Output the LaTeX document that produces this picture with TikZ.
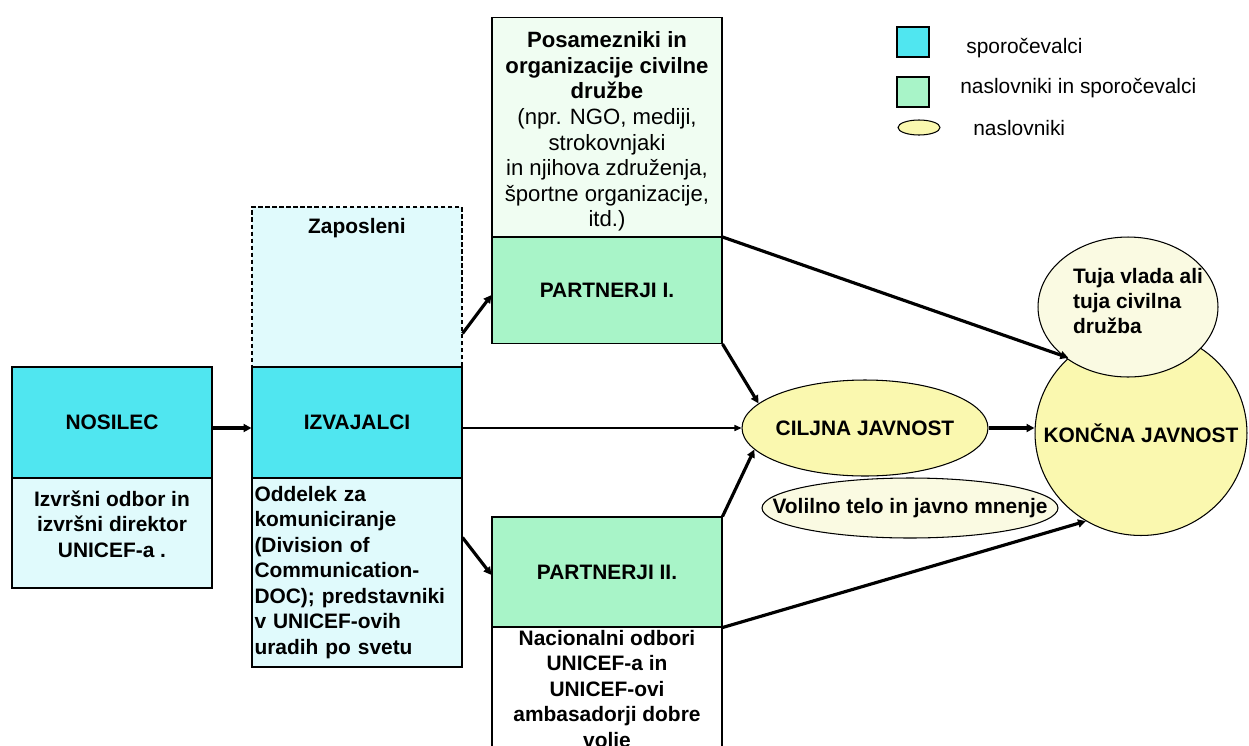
\documentclass[tikz,border=0pt]{standalone}
\usepackage{fontspec}
\setmainfont{Liberation Sans}
\usetikzlibrary{shapes.geometric,arrows.meta,calc}

\definecolor{tuerkis}{RGB}{80,230,240}
\definecolor{hellblau}{RGB}{224,250,252}
\definecolor{gruen}{RGB}{168,244,200}
\definecolor{hellgruen}{RGB}{240,253,242}
\definecolor{gelb}{RGB}{250,248,175}
\definecolor{hellgelb}{RGB}{250,250,226}

\begin{document}
\begin{tikzpicture}[x=0.02cm,y=-0.02cm,
	kasten/.style={draw,line width=0.6pt,inner sep=0pt},
	oval/.style={ellipse,draw,line width=0.6pt,inner sep=0pt},
	schrift/.style={font=\fontsize{11.9}{14.5}\selectfont\bfseries,align=center,inner sep=0pt},
	normal/.style={font=\fontsize{11.9}{14.5}\selectfont,inner sep=0pt},
	pfeil/.style={line width=1.8pt,-{Triangle[length=4.5pt,width=4.5pt]}},
	duenn/.style={line width=0.6pt,-{Triangle[length=4pt,width=3.5pt]}}]

	\useasboundingbox (0,0) rectangle (1249,745);

	% Legende
	\node (leg1) at (913,42) [kasten,fill=tuerkis,minimum width=0.64cm,minimum height=0.6cm] {};
	\node (leg1txt) at (966,48) [normal,anchor=west] {sporočevalci};
	\node (leg2) at (913,92) [kasten,fill=gruen,minimum width=0.64cm,minimum height=0.6cm] {};
	\node (leg2txt) at (960,88) [normal,anchor=west] {naslovniki in sporočevalci};
	\node (leg3) at (919,127.5) [oval,fill=gelb,minimum width=0.84cm,minimum height=0.3cm] {};
	\node (leg3txt) at (973,128) [normal,anchor=west] {naslovniki};

	% Nosilec
	\node (nosilec) at (112,422.5) [kasten,fill=tuerkis,minimum width=4cm,minimum height=2.22cm,schrift] {NOSILEC};
	\node (nosilecopis) at (112,533) [kasten,fill=hellblau,minimum width=4cm,minimum height=2.2cm] {};
	\node (nosilectxt) at (112,524) [schrift] {Izvršni odbor in\\izvršni direktor\\UNICEF-a .};

	% Izvajalci
	\node (zaposleni) at (357,287) [kasten,dash pattern=on 2.5pt off 1.5pt,fill=hellblau,minimum width=4.2cm,minimum height=3.2cm] {};
	\node (zaposlenitxt) at (357,228) [schrift] {Zaposleni};
	\node (izvajalci) at (357,422.5) [kasten,fill=tuerkis,minimum width=4.2cm,minimum height=2.22cm,schrift] {IZVAJALCI};
	\node (izvopis) at (357,572.5) [kasten,fill=hellblau,minimum width=4.2cm,minimum height=3.78cm,schrift,align=left,text width=4.1cm,inner xsep=0.05cm] {Oddelek za\\komuniciranje\\(Division of\\Communication-\\DOC); predstavniki\\v UNICEF-ovih\\uradih po svetu};

	% Partnerji I
	\node (posam) at (607,127) [kasten,fill=hellgruen,minimum width=4.6cm,minimum height=4.4cm] {};
	\node (posamtxt) at (607,31) [anchor=north,align=center,inner sep=0pt,font={\fontsize{12.6}{14.6}\selectfont}] {\textbf{Posamezniki in}\\\textbf{organizacije civilne}\\\textbf{družbe}\\(npr. NGO, mediji,\\strokovnjaki\\in njihova združenja,\\športne organizacije,\\itd.)};
	\node (partnerji1) at (607,290.5) [kasten,fill=gruen,minimum width=4.6cm,minimum height=2.12cm,schrift] {PARTNERJI I.};

	% Partnerji II
	\node (partnerji2) at (607,572) [kasten,fill=gruen,minimum width=4.6cm,minimum height=2.2cm,schrift] {PARTNERJI II.};
	\node (odbori) at (607,707) [kasten,fill=white,minimum width=4.6cm,minimum height=3.2cm] {};
	\node (odboritxt) at (607,630) [anchor=north,schrift] {Nacionalni odbori\\UNICEF-a in\\UNICEF-ovi\\ambasadorji dobre\\volje};

	% Javnost
	\node (ciljna) at (865,428) [oval,fill=gelb,minimum width=4.92cm,minimum height=1.92cm,schrift] {\makebox[0pt]{CILJNA JAVNOST}};
	\node (volilno) at (910,508) [oval,fill=hellgelb,minimum width=5.92cm,minimum height=1.2cm,schrift] {\makebox[0pt]{Volilno telo in javno mnenje}};
	\node (koncna) at (1141,433) [oval,fill=gelb,minimum width=4.24cm,minimum height=4.1cm,schrift] {\makebox[0pt]{KONČNA JAVNOST}};
	\node (tuja) at (1128,307) [oval,fill=hellgelb,minimum width=3.6cm,minimum height=2.8cm] {};
	\node (tujatxt) at (1138,301) [schrift,align=left] {Tuja vlada ali\\tuja civilna\\družba};

	% Pfeile
	\draw[pfeil] (nosilec.east |- ciljna.west) -- (izvajalci.west |- ciljna.west);
	\draw[duenn] (izvajalci.east |- ciljna.west) -- (ciljna.west);
	\draw[pfeil] ($(zaposleni.south east)+(0,-34)$) -- ($(partnerji1.west)+(0,4.5)$);
	\draw[pfeil] ($(izvopis.north east)+(0,60)$) -- ($(partnerji2.west)+(0,3)$);
	\draw[pfeil] (partnerji1.south east) -- (ciljna.167);
	\draw[pfeil] (partnerji2.north east) -- (ciljna.191);
	\draw[pfeil] (partnerji1.north east) -- (koncna.134);
	\draw[pfeil] (partnerji2.south east) -- (koncna.238);
	\draw[pfeil] (ciljna.east) -- (ciljna.east -| koncna.west);

\end{tikzpicture}
\end{document}
